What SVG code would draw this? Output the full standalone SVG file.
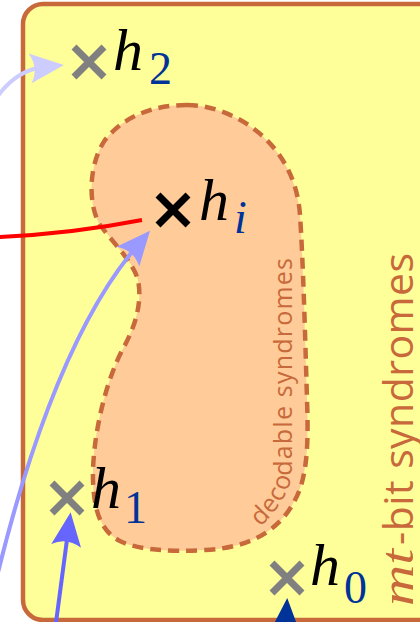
<svg xmlns="http://www.w3.org/2000/svg" xmlns:xlink="http://www.w3.org/1999/xlink" width="420" height="622" viewBox="0 0 420 622">
<style>
.box{fill:#ffff99;stroke:#c8693c;stroke-width:4.5}
.blob{fill:#ffcc99;stroke:#c8693c;stroke-width:4.5;stroke-dasharray:11 7}
.lbl{fill:#c8693c}
.cross{fill:none;stroke-width:7}
.gray{stroke:#808080}
.black{stroke:#000}
.h{font-family:"Liberation Serif",serif;font-style:italic;font-size:60px;fill:#000}
.sub{font-family:"Liberation Serif",serif;font-size:46px;fill:#003399}
.subi{font-family:"Liberation Serif",serif;font-style:italic;font-size:46px;fill:#003399}
.conn{fill:none;stroke-width:4}
</style>
<defs>
<path id="x" d="M-15,-15L15,15M-15,15L15,-15"/>
<marker id="ah-lav1" markerUnits="userSpaceOnUse" markerWidth="40" markerHeight="34" viewBox="0 -17 40 34" refX="14" refY="0" orient="auto" overflow="visible"><path d="M0,-15L34,0L0,15Q9,0 0,-15Z" fill="#ccccff"/></marker>
<marker id="ah-lav2" markerUnits="userSpaceOnUse" markerWidth="40" markerHeight="34" viewBox="0 -17 40 34" refX="14" refY="0" orient="auto" overflow="visible"><path d="M0,-15L34,0L0,15Q9,0 0,-15Z" fill="#9999ff"/></marker>
<marker id="ah-blue" markerUnits="userSpaceOnUse" markerWidth="40" markerHeight="34" viewBox="0 -17 40 34" refX="14" refY="0" orient="auto" overflow="visible"><path d="M0,-15L34,0L0,15Q9,0 0,-15Z" fill="#6666ff"/></marker>
<marker id="ah-dark" markerUnits="userSpaceOnUse" markerWidth="40" markerHeight="34" viewBox="0 -17 40 34" refX="14" refY="0" orient="auto" overflow="visible"><path d="M0,-15L34,0L0,15Q9,0 0,-15Z" fill="#003399"/></marker>
<path id="decpath" d="M260,527 Q292,497 292,468 L292,230"/>
</defs>

<g id="mt-bit-syndromes">
<rect class="box" x="23" y="4" width="440" height="616" rx="20"/>
<g transform="translate(413,606) rotate(-90)">
<text x="0" y="0" textLength="57" lengthAdjust="spacingAndGlyphs" font-family="Liberation Serif, serif" font-style="italic" font-size="46" class="lbl">mt</text>
<text x="61" y="0" textLength="292" font-family="Open Sans, sans-serif" font-size="41" class="lbl">-bit syndromes</text>
</g>
</g>

<g id="decodable-syndromes">
<path class="blob" d="M187,105 C230,105 295,140 300,215 C303,260 305,330 307,400 C309,450 306,480 295,500 C280,530 250,548 205,550 C170,552 140,550 122,542 C100,532 94,510 93,480 C92,440 105,380 125,345 C137,322 142,300 138,280 C133,262 115,245 100,225 C88,205 88,165 105,140 C125,115 155,105 187,105 Z"/>
<text font-family="Open Sans, sans-serif" font-size="25" letter-spacing="1.2" class="lbl"><textPath xlink:href="#decpath" href="#decpath">decodable syndromes</textPath></text>
</g>

<g id="h2">
<use href="#x" xlink:href="#x" class="cross gray" transform="translate(89,62)"/>
<text class="h" x="113" y="70">h</text><text class="sub" x="149" y="84">2</text>
</g>
<g id="hi">
<use href="#x" xlink:href="#x" class="cross black" transform="translate(173,210)"/>
<text class="h" x="199" y="220">h</text><text class="subi" x="234" y="233">i</text>
</g>
<g id="h1">
<use href="#x" xlink:href="#x" class="cross gray" transform="translate(67,498)"/>
<text class="h" x="91" y="508">h</text><text class="sub" x="124" y="523">1</text>
</g>
<g id="h0">
<use href="#x" xlink:href="#x" class="cross gray" transform="translate(287,578)"/>
<text class="h" x="310" y="585">h</text><text class="sub" x="344" y="603">0</text>
</g>

<g id="connectors">
<path class="conn" stroke="#ccccff" d="M-5,100 Q15,70 44,67" marker-end="url(#ah-lav1)"/>
<path class="conn" stroke="#ff0000" d="M-2,237 Q70,234 142,220"/>
<path class="conn" stroke="#9999ff" d="M-5,585 C20,480 65,330 137,246" marker-end="url(#ah-lav2)"/>
<path class="conn" stroke="#6666ff" d="M55,630 L68,532" marker-end="url(#ah-blue)"/>
<path class="conn" stroke="#003399" d="M284,650 L286,618" marker-end="url(#ah-dark)"/>
</g>
</svg>
